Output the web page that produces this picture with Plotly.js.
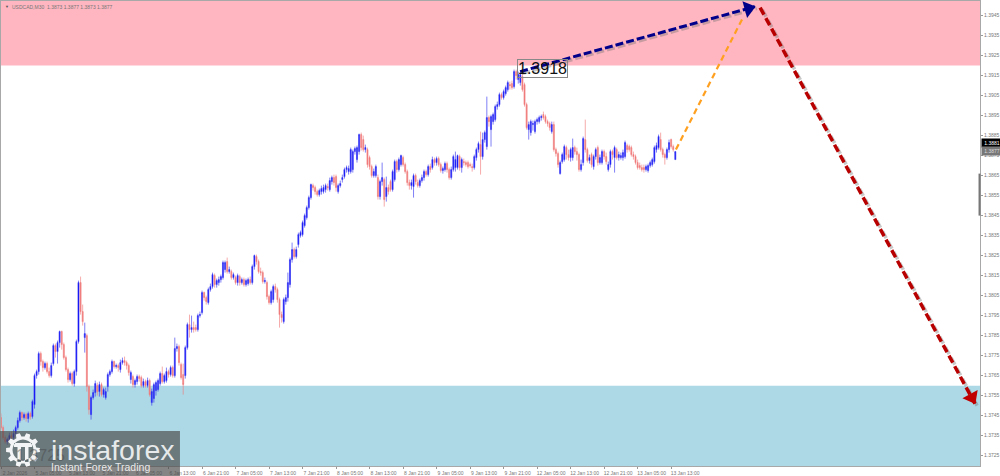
<!DOCTYPE html>
<html><head><meta charset="utf-8">
<script src="https://cdn.plot.ly/plotly-3.0.1.min.js"></script>
<style>html,body{margin:0;padding:0;background:#fff;overflow:hidden}#c{width:1000px;height:476px}</style>
</head><body><div id="c"></div>
<script>
// USDCAD M30 bars, prices in pips (price = 1 + pips / 10000), one row = 10 bars
const openPips=[3744,3739,3734,3732,3733,3735,3734,3736,3739,3742.5,
3746.5,3744,3745.5,3743.5,3746,3744.5,3750.5,3765,3767,3776,
3772,3769,3771,3767,3765,3771,3780,3777,3781.5,3787,
3780.5,3774,3768,3763,3766,3761,3767,3782,3811.5,3797,
3784,3785,3759.5,3745.5,3754,3756.5,3760,3757,3760.5,3755.5,
3754,3759.5,3765.5,3767,3772,3769.5,3770,3768,3771.5,3772.5,
3771.5,3770,3763,3764.5,3760.5,3762,3764.5,3764,3760,3762,
3760,3762.5,3751.5,3753.5,3757.5,3758,3761,3766,3762,3762.5,
3767,3765.5,3769,3765,3778.5,3779.5,3770.5,3765.5,3765,3779,
3790.5,3788,3789,3789,3788,3795,3796.5,3806.5,3804,3801.5,
3808,3809.5,3815,3810.5,3811.5,3813,3814,3818,3822,3817,
3817,3814,3814,3811.5,3814.5,3811.5,3813,3810.5,3811,3813,
3811.5,3819.5,3824.5,3822,3817,3816.5,3812,3811.5,3804.5,3801.5,
3803,3809.5,3808,3803,3795.5,3792,3802,3804,3810.5,3823,
3828,3824.5,3830.5,3835,3835.5,3840,3844,3849,3854,3860,
3859,3857,3855.5,3857,3857,3858,3859.5,3858,3862,3864,
3864.5,3857,3860,3863,3864.5,3868,3867,3867,3868,3877,
3873,3877,3885.5,3883,3878,3878,3874,3869.5,3865,3865,
3864,3854.5,3862,3863,3854.5,3859,3862,3858,3863,3872,
3868,3870.5,3874,3870.5,3867,3861.5,3860,3859.5,3865,3861.5,
3860,3862.5,3864,3867,3865.5,3869.5,3869,3873,3871.5,3873.5,
3870.5,3867.5,3868,3871,3868,3864,3868,3869,3869,3874.5,
3869,3872,3871.5,3871.5,3870.5,3869.5,3869,3874,3878,3880.5,
3874.5,3883,3879.5,3894,3888,3892,3893,3899.5,3900.5,3905.5,
3904,3906,3908,3910.5,3911,3909.5,3917,3913,3911.5,3914.5,
3910.5,3900.5,3888,3886.5,3890.5,3887,3892,3892,3894,3895.5,
3894.5,3892,3891,3887,3890.5,3878,3876,3866,3872,3873,
3879,3875.5,3874,3874,3879,3877,3875.5,3868,3871.5,3883,
3878,3872.5,3875.5,3869.5,3874.5,3879,3871.5,3871.5,3877,3874.5,
3868,3870.5,3877,3874,3878,3874,3874,3874,3874.5,3880,
3879.5,3879,3875.5,3874.5,3871.5,3870,3869,3869,3868,3867.5,
3870,3870.5,3872,3878,3879,3883,3878,3875.5,3874,3878,
3883,3879.5,3873];
const highPips=[3746,3740,3735,3734,3736.5,3737,3738,3740,3744,3747.5,
3747,3746.5,3746.5,3747,3747,3753,3766,3768,3777,3777,
3773,3772,3772,3769,3771.5,3781,3781,3782.5,3787.5,3787.5,
3781.5,3775,3769,3767,3767,3768,3783,3812.5,3814.5,3800.5,
3791.5,3786,3760.5,3755,3758,3762.5,3761.5,3762,3761.5,3759,
3759,3766.5,3768,3773,3772.5,3771,3771,3773,3774,3774.5,
3772.5,3771,3767.5,3765.5,3763.5,3765.5,3765.5,3765,3763.5,3763,
3764,3763.5,3758.5,3761.5,3762.5,3763.5,3767,3769.5,3766,3769,
3768,3770,3770,3784,3781,3780.5,3771.5,3771,3780,3791.5,
3795.5,3795,3792,3790.5,3796,3797,3807.5,3807,3805,3809,
3811,3816.5,3816,3813.5,3814.5,3815.5,3822.5,3822.5,3824,3819.5,
3818,3816.5,3815,3816,3815.5,3814,3814,3813.5,3814,3814.5,
3820.5,3825.5,3825.5,3823,3819,3817.5,3814,3812.5,3805.5,3808,
3810.5,3811,3809,3804,3797,3804,3805.5,3816.5,3824,3831.5,
3829,3829.5,3836.5,3837.5,3842.5,3846,3850,3855,3861,3861,
3860,3858,3858.5,3860,3860.5,3861,3861,3864,3865,3865.5,
3865.5,3861,3862.5,3865.5,3869,3870,3870,3879,3878,3879.5,
3880,3886,3886.5,3885,3880.5,3879,3875,3870.5,3868.5,3870.5,
3865.5,3863,3871.5,3864,3864.5,3860.5,3863,3868,3873,3873,
3874,3875.5,3875,3871.5,3868,3863,3863,3866,3866,3863,
3863.5,3865.5,3868,3868,3870.5,3871,3874.5,3874,3874.5,3874.5,
3871.5,3869.5,3872,3872,3869,3869.5,3875.5,3877,3875.5,3875.5,
3874,3873.5,3872.5,3872.5,3871.5,3871,3875.5,3879,3882,3887,
3886.5,3887.5,3904.5,3895,3895.5,3896.5,3900.5,3902,3906.5,3906.5,
3908,3910,3912.5,3912,3912.5,3918,3918,3917,3916.5,3917.5,
3911.5,3901.5,3892,3893,3892.5,3893,3894,3895,3895.5,3897,
3895.5,3893,3892,3892,3892,3879,3877,3872.5,3876.5,3880.5,
3880,3878,3879,3883.5,3880,3879,3876.5,3873,3884.5,3893,
3879,3875.5,3876.5,3875.5,3879,3880,3875.5,3878,3878,3876.5,
3872,3878,3878,3880,3879,3877,3876.5,3878,3882.5,3881,
3880.5,3880,3877,3875.5,3873,3871.5,3870.5,3870.5,3870.5,3871,
3872.5,3874,3880,3881.5,3885.5,3886.5,3879,3876.5,3879,3883,
3883.5,3880.5,3877];
const lowPips=[3738,3733,3731,3730.5,3732,3732.5,3733,3735,3738,3741.5,
3742.5,3743,3742,3741.5,3743,3743.5,3748.5,3763.5,3765.5,3770,
3767,3768,3766,3764,3764,3770,3774,3771,3779,3778,
3773,3767,3761.5,3762,3760,3759.5,3765,3781,3795.5,3790,
3776.5,3757,3745.5,3743,3753,3754.5,3755,3754.5,3754.5,3754,
3753,3757,3764.5,3766,3768.5,3768.5,3767,3766.5,3770.5,3770,
3768,3765,3761,3759,3759,3760.5,3762,3759,3759,3759,
3759,3754.5,3750,3751.5,3755,3757,3760,3761,3761,3761.5,
3764,3764.5,3764,3764,3777,3770,3763,3755.5,3763.5,3778,
3784,3786.5,3786.5,3787,3787,3794,3795.5,3802.5,3800.5,3800.5,
3807,3808.5,3809,3809,3810,3811.5,3813,3816.5,3816,3816,
3813,3813,3810.5,3810,3810,3810.5,3809.5,3809.5,3810,3810.5,
3810.5,3818,3820.5,3816,3815,3811,3811,3803,3800.5,3800.5,
3801.5,3806.5,3801.5,3789,3791.5,3791,3800.5,3802,3809,3821.5,
3823.5,3823.5,3829,3834,3834.5,3839,3843,3848,3853,3857.5,
3855.5,3854.5,3854.5,3855.5,3856,3856.5,3857.5,3857,3860.5,3860,
3857,3856,3859,3861.5,3863.5,3866.5,3865.5,3866,3866.5,3875.5,
3871.5,3875.5,3877.5,3877,3876.5,3869,3868,3864,3864,3864,
3853,3853,3860,3849.5,3852,3855.5,3857,3857,3862,3866.5,
3867,3869.5,3869.5,3866,3860,3858,3858,3854,3860.5,3859,
3859,3861.5,3862.5,3864.5,3864.5,3866.5,3868,3870,3870,3869.5,
3866.5,3866,3867,3866.5,3863,3863,3867,3867,3868,3867.5,
3866.5,3870,3869.5,3868.5,3869,3867,3868,3872.5,3876.5,3865.5,
3873,3881.5,3878,3889.5,3879.5,3890.5,3892,3898,3899.5,3903,
3903,3905,3907,3908,3908,3908.5,3913,3911,3910,3907,
3899.5,3888,3883,3885,3887.5,3886,3890.5,3891,3892.5,3893,
3891,3889.5,3887.5,3886,3877,3874.5,3869,3865.5,3871,3872,
3873,3872.5,3872,3872.5,3875.5,3872.5,3867,3867,3870,3876.5,
3871.5,3871,3869,3868,3873,3870,3870.5,3870.5,3873,3870.5,
3867,3869,3873,3866.5,3873,3872.5,3873,3872.5,3873.5,3876.5,
3877,3874.5,3873,3870.5,3868,3868,3867,3866.5,3867,3866.5,
3869,3869.5,3871,3876.5,3878,3877,3874,3870.5,3873,3876.5,
3878.5,3877,3873];
const closePips=[3739,3734,3732,3733,3735,3734,3736,3739,3742.5,3746.5,
3744,3745.5,3743.5,3746,3744.5,3752,3765,3767,3776,3772,
3769,3771,3767,3765,3770,3780,3777,3781.5,3787,3780.5,
3774,3768,3763,3766,3761,3767,3782,3811.5,3797,3792,
3786,3759.5,3748,3754,3756.5,3761,3757,3760.5,3755.5,3758,
3757,3765.5,3767,3772,3769.5,3770,3769,3771.5,3772.5,3771.5,
3770,3766.5,3766.5,3760.5,3762.5,3764.5,3763.5,3760,3762,3760,
3762.5,3755.5,3757,3760.5,3761.5,3762.5,3766,3762,3765,3767,
3765.5,3769,3765,3778.5,3779.5,3771.5,3764,3760.5,3779,3790.5,
3788,3789,3788,3788,3795,3795.5,3806.5,3804,3802,3808,
3809.5,3815.5,3810.5,3812.5,3813,3814.5,3821.5,3821.5,3817,3818,
3814,3815.5,3811.5,3815,3811.5,3813,3810.5,3812.5,3813,3811.5,
3819.5,3825,3822,3817,3816.5,3812,3812.5,3804.5,3801.5,3807,
3809.5,3808,3803,3795.5,3794,3803,3804,3811.5,3823,3828,
3824.5,3828,3835.5,3836.5,3841.5,3845,3849,3854,3860.5,3859,
3857,3855.5,3857.5,3858.5,3859,3860,3859,3862.5,3864,3861.5,
3859,3860,3861,3864,3868,3869,3868.5,3878,3877,3878.5,
3879,3885.5,3879,3878,3879,3870.5,3869.5,3865,3867,3869.5,
3854.5,3862,3864,3853,3859,3857,3858,3867,3872,3868,
3873,3875,3870.5,3867,3861.5,3860,3861.5,3865,3862,3860,
3862.5,3864,3867,3865.5,3869.5,3868,3873,3871.5,3873.5,3870.5,
3867.5,3868.5,3871,3868,3864,3868,3874.5,3873,3875,3869,
3873,3871.5,3870.5,3869.5,3870,3869,3874.5,3878,3881,3874.5,
3883,3886.5,3894,3892,3894.5,3895.5,3899.5,3900.5,3905.5,3904,
3907,3909,3911.5,3910,3909,3917,3915,3915.5,3915.5,3908,
3900.5,3889,3890.5,3892,3891,3892,3893,3894,3894.5,3894,
3892,3891,3889,3890.5,3878,3876,3870.5,3871.5,3875.5,3879.5,
3875.5,3874,3878,3879,3877,3875.5,3868,3870.5,3883.5,3878,
3872.5,3874,3870.5,3874.5,3878,3871.5,3874,3877,3874.5,3872,
3870.5,3877,3875.5,3879,3874,3875.5,3875,3876.5,3881.5,3878,
3878,3875.5,3874.5,3871.5,3869,3869,3868,3868,3869.5,3870,
3871.5,3873,3879,3880,3884.5,3878,3875.5,3874,3878,3881.5,
3879.5,3878,3877];
const tickBars=[0,16,32,48,64,80,96,112,128,144,160,176,192,208,224,240,256,272,288,304,320];
const tickLabels=['2 Jan 2026','5 Jan 05:00','5 Jan 13:00','5 Jan 21:00','6 Jan 05:00','6 Jan 13:00','6 Jan 21:00','7 Jan 05:00','7 Jan 13:00','7 Jan 21:00','8 Jan 05:00','8 Jan 13:00','8 Jan 21:00','9 Jan 05:00','9 Jan 13:00','9 Jan 21:00','12 Jan 05:00','12 Jan 13:00','12 Jan 21:00','13 Jan 05:00','13 Jan 13:00'];
const priceTicks=[1.3725,1.3735,1.3745,1.3755,1.3765,1.3775,1.3785,1.3795,1.3805,1.3815,1.3825,1.3835,1.3845,1.3855,1.3865,1.3875,1.3885,1.3895,1.3905,1.3915,1.3925,1.3935,1.3945];
const xRange=[0,467.5], yRange=[1.37198,1.39523];
const sellZone=[1.39201,1.39523], buyZone=[1.37198,1.37599];
const waveUpX=[247.9,360], waveUpY=[1.3917,1.39495];
const waveAltX=[322.3,354.3], waveAltY=[1.3878,1.3944];
const waveDownX=[362.5,465.1], waveDownY=[1.3949,1.3751];
const headX=[356.9,463.6], headY=[1.39485,1.37541], headAngle=[74.5,151.5], headColor=['#00008b','#c00000'];

const toPrice=a=>a.map(v=>1+v/10000);
const idx=closePips.map((_,i)=>i);
const shadow={x:1,y:-0.0001,c:'rgba(110,110,110,0.38)'};
const wave=(x,y,c,w,d)=>({type:'scatter',mode:'lines',x,y,line:{color:c,width:w,dash:d},hoverinfo:'skip',showlegend:false});
const sh=(x,y,w,d)=>wave(x.map(v=>v+shadow.x),y.map(v=>v+shadow.y),shadow.c,w,d);
const traces=[
 {type:'candlestick',x:idx,open:toPrice(openPips),high:toPrice(highPips),low:toPrice(lowPips),close:toPrice(closePips),
  increasing:{line:{color:'rgba(50,50,240,0.62)',width:1},fillcolor:'#0000ff'},
  decreasing:{line:{color:'rgba(240,120,120,0.62)',width:1},fillcolor:'#f08080'},
  whiskerwidth:0,hoverinfo:'skip',showlegend:false},
 sh(waveUpX,waveUpY,3,'8px,3px'),sh(waveDownX,waveDownY,3.5,'8px,4px'),
 wave(waveAltX,waveAltY,'#ffa020',2.2,'6px,4px'),
 wave(waveUpX,waveUpY,'#00008b',3,'8px,3px'),
 wave(waveDownX,waveDownY,'#b80000',3.5,'8px,4px'),
 {type:'scatter',mode:'markers',x:headX,y:headY,marker:{symbol:'triangle-up',size:15,color:headColor,angle:headAngle,line:{width:0}},hoverinfo:'skip',showlegend:false}
];
// logo gear outline, in pixels around its centre
function gearPath(){
 const n=10,R=17,r=13.5,hole=10.5; let p='';
 for(let k=0;k<n;k++){const a=k*2*Math.PI/n,w=Math.PI/n*0.5;
  [[r,a-w*1.25],[R,a-w*0.8],[R,a+w*0.8],[r,a+w*1.25]].forEach((q,j)=>{p+=((k||j)?'L':'M')+(q[0]*Math.cos(q[1])).toFixed(1)+','+(q[0]*Math.sin(q[1])).toFixed(1);});}
 p+='Z';
 for(let k=0;k<24;k++){const a=k*2*Math.PI/24;p+=(k?'L':'M')+(hole*Math.cos(a)).toFixed(1)+','+(hole*Math.sin(a)).toFixed(1);}
 p+='Z';
 p+='M-9,7L9,7L9,3L5.5,3L5.5,-12L2,-12L2,3L-2,3L-2,-12L-5.5,-12L-5.5,3L-9,3Z';
 return p;
}
const F='"Liberation Sans",Arial,sans-serif';
const layout={
 width:1000,height:476,margin:{l:1,r:20,t:1,b:10,pad:0},paper_bgcolor:'#fff',plot_bgcolor:'#fff',showlegend:false,
 xaxis:{range:xRange,rangeslider:{visible:false},showgrid:false,zeroline:false,showline:true,mirror:true,linecolor:'#a8a8a8',linewidth:1,
  tickmode:'array',tickvals:tickBars,ticktext:tickLabels,ticks:'outside',ticklen:2,tickwidth:1,tickcolor:'#999',ticklabelshift:14,
  tickangle:0,tickfont:{family:F,size:5,color:'#777'}},
 yaxis:{range:yRange,side:'right',showgrid:false,zeroline:false,showline:true,mirror:true,linecolor:'#a8a8a8',linewidth:1,
  tickmode:'array',tickvals:priceTicks,ticktext:priceTicks.map(v=>v.toFixed(4)),ticks:'outside',ticklen:2,tickwidth:1,tickcolor:'#999',
  tickfont:{family:F,size:5,color:'#777'}},
 shapes:[
  {type:'rect',xref:'paper',x0:0,x1:1,yref:'y',y0:sellZone[0],y1:sellZone[1],fillcolor:'#ffb6c1',line:{width:0},layer:'below'},
  {type:'rect',xref:'paper',x0:0,x1:1,yref:'y',y0:buyZone[0],y1:buyZone[1],fillcolor:'#add8e6',line:{width:0},layer:'below'},
  {type:'rect',xref:'paper',x0:0.9985,x1:1.0005,yref:'y',y0:1.3845,y1:1.3866,fillcolor:'#777',line:{width:0},layer:'above'},
  {type:'rect',xref:'paper',x0:-0.001,x1:0.1828,yref:'paper',y0:-0.0215,y1:0.0753,fillcolor:'rgba(75,75,75,0.68)',line:{width:0},layer:'above'},
  {type:'path',xsizemode:'pixel',ysizemode:'pixel',xref:'paper',yref:'paper',xanchor:0.02247,yanchor:0.0344,path:gearPath(),fillrule:'evenodd',fillcolor:'rgba(255,255,255,0.92)',line:{width:0},layer:'above'}
 ],
 annotations:[
  {xref:'paper',yref:'paper',x:0.0088,y:0.998,xanchor:'left',yanchor:'top',showarrow:false,text:'USDCAD,M30  1.3873 1.3877 1.3873 1.3877',font:{family:F,size:5,color:'#777'}},
  {xref:'paper',yref:'paper',x:0.0022,y:0.998,xanchor:'left',yanchor:'top',showarrow:false,text:'▼',font:{family:F,size:4,color:'#555'}},
  {xref:'x',yref:'y',x:258.8,y:1.39188,showarrow:false,text:'1.3918',font:{family:F,size:16,color:'#111'},bordercolor:'#888',borderwidth:1,borderpad:0},
  {xref:'paper',yref:'paper',x:0.0133,y:0.0,xanchor:'left',yanchor:'bottom',showarrow:false,text:'1.3725',font:{family:F,size:16,color:'#444'},opacity:0.45},
  {xref:'paper',yref:'y',x:1,y:1.38814,xanchor:'left',xshift:1,showarrow:false,text:'1.3881',font:{family:F,size:5,color:'#fff'},bgcolor:'#000',borderpad:1,width:18,height:6},
  {xref:'paper',yref:'y',x:1,y:1.38774,xanchor:'left',xshift:1,showarrow:false,text:'1.3877',font:{family:F,size:5,color:'#ddd'},bgcolor:'#777',borderpad:1,width:18,height:6},
  {xref:'paper',yref:'paper',x:0.0491,y:0.0753,xanchor:'left',yanchor:'top',yshift:-1,showarrow:false,text:'instaforex',font:{family:F,size:28.5,color:'rgba(255,255,255,0.85)'}},
  {xref:'paper',yref:'paper',x:0.0491,y:0.0,xanchor:'left',yanchor:'middle',yshift:-1,showarrow:false,text:'Instant Forex Trading',font:{family:F,size:10.5,color:'rgba(255,255,255,0.85)'}}
 ]
};
Plotly.newPlot('c',traces,layout,{displayModeBar:false,staticPlot:true});
</script></body></html>
